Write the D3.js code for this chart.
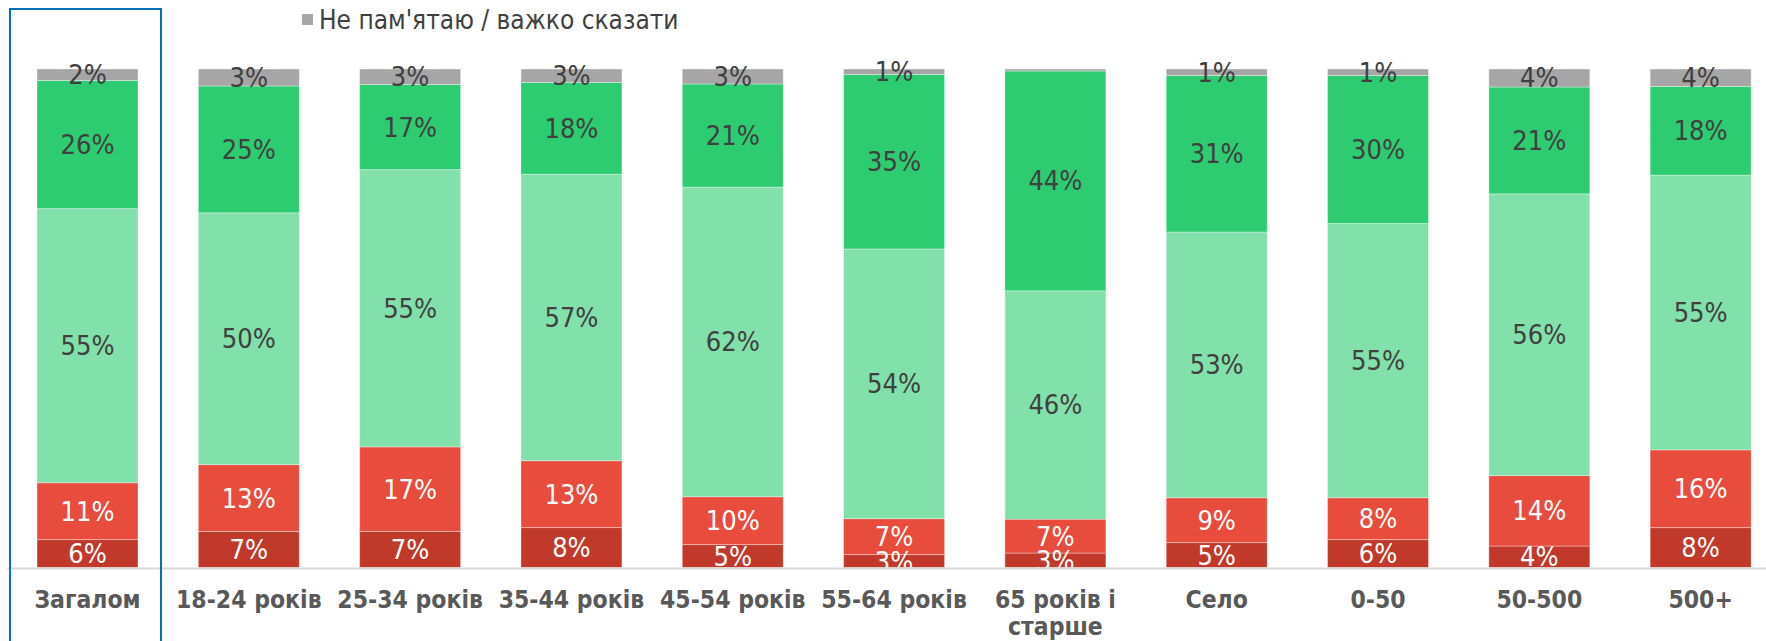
<!DOCTYPE html>
<html>
<head>
<meta charset="utf-8">
<script src="https://cdn.jsdelivr.net/npm/d3@7"></script>
<style>
  html, body { margin: 0; padding: 0; background: #fff; }
  svg { display: block; }
</style>
</head>
<body>
<div id="chart"></div>
<script>
// Categories along the x axis (label lines for the wrapped one).
const categories = [
  "Загалом", "18-24 років", "25-34 років", "35-44 років", "45-54 років",
  "55-64 років", "65 років і старше", "Село", "0-50", "50-500", "500+",
];
const categoryLines = [
  ["Загалом"], ["18-24 років"], ["25-34 років"], ["35-44 років"], ["45-54 років"],
  ["55-64 років"], ["65 років і", "старше"], ["Село"], ["0-50"], ["50-500"], ["500+"],
];

// Series, bottom to top of each stack (percent).
const darkRed   = [5.6, 7.2, 7.2, 8.0, 4.6, 2.6, 2.9, 5.0, 5.6, 4.3, 8.0];
const red       = [11.4, 13.4, 16.9, 13.4, 9.6, 7.2, 6.8, 9.0, 8.4, 14.1, 15.6];
const lightGreen = [55.0, 50.4, 55.4, 57.4, 62.1, 54.1, 45.8, 53.3, 55.0, 56.4, 55.1];
const green     = [25.7, 25.4, 17.0, 18.4, 20.7, 35.0, 44.1, 31.4, 29.7, 21.4, 17.8];
const dontKnow  = [2.3, 3.4, 3.1, 2.7, 3.0, 1.1, 0.4, 1.3, 1.3, 3.6, 3.5];

const legendLabel = "Не пам'ятаю / важко сказати";

const seriesKeys = ["darkRed", "red", "lightGreen", "green", "dontKnow"];
const seriesValues = { darkRed, red, lightGreen, green, dontKnow };
const COLORS = {
  darkRed: "#c0392b",
  red: "#e74c3c",
  lightGreen: "#82e0aa",
  green: "#2ecc71",
  dontKnow: "#a6a6a6",
};
const LABEL_COLORS = {
  darkRed: "#ffffff",
  red: "#ffffff",
  lightGreen: "#404040",
  green: "#404040",
  dontKnow: "#404040",
};

const width = 1766;
const height = 641;
const plotTop = 69;
const plotBottom = 567.5;

const rows = categories.map((cat, i) => {
  const row = { category: cat, lines: categoryLines[i] };
  seriesKeys.forEach((k) => (row[k] = seriesValues[k][i]));
  return row;
});

const stacked = d3.stack().keys(seriesKeys).offset(d3.stackOffsetExpand)(rows);

const x = d3
  .scaleBand()
  .domain(categories)
  .range([6.85, 1781.3])
  .paddingInner(0.374)
  .paddingOuter(0.187);

const y = d3.scaleLinear().domain([0, 1]).range([plotBottom, plotTop]);

const svg = d3
  .select("#chart")
  .append("svg")
  .attr("width", width)
  .attr("height", height);

svg
  .append("defs")
  .append("clipPath")
  .attr("id", "plot-clip")
  .append("rect")
  .attr("x", 0)
  .attr("y", 0)
  .attr("width", width)
  .attr("height", plotBottom);

// Stacked segments.
const layers = svg
  .selectAll("g.layer")
  .data(stacked)
  .enter()
  .append("g")
  .attr("class", "layer")
  .attr("fill", (d) => COLORS[d.key]);

layers
  .selectAll("rect")
  .data((d) => d)
  .enter()
  .append("rect")
  .attr("x", (d) => x(d.data.category))
  .attr("y", (d) => y(d[1]))
  .attr("width", x.bandwidth())
  .attr("height", (d) => y(d[0]) - y(d[1]))
  .attr("stroke", "#ffffff")
  .attr("stroke-opacity", 0.35)
  .attr("stroke-width", 1);

// Value labels in the middle of every segment (clipped at the axis line,
// like the original where the small bottom labels are cut off).
const labelGroup = svg.append("g").attr("clip-path", "url(#plot-clip)");

stacked.forEach((layer) => {
  labelGroup
    .selectAll(`text.lbl-${layer.key}`)
    .data(layer.filter((d) => Math.round(d.data[layer.key]) >= 1))
    .enter()
    .append("text")
    .attr("class", `lbl-${layer.key}`)
    .attr("x", (d) => x(d.data.category) + x.bandwidth() / 2)
    .attr("y", (d) => (y(d[0]) + y(d[1])) / 2)
    .attr("text-anchor", "middle")
    .attr("dominant-baseline", "central")
    .attr("font-family", "'DejaVu Sans Condensed', 'DejaVu Sans', sans-serif")
    .attr("font-size", "27px")
    .attr("fill", LABEL_COLORS[layer.key])
    .text((d) => `${Math.round(d.data[layer.key])}%`);
});

// Axis line.
svg
  .append("line")
  .attr("x1", 7)
  .attr("x2", width)
  .attr("y1", plotBottom + 1)
  .attr("y2", plotBottom + 1)
  .attr("stroke", "#d9d9d9")
  .attr("stroke-width", 2);

// Category labels.
const catLabels = svg
  .selectAll("text.cat")
  .data(rows)
  .enter()
  .append("text")
  .attr("class", "cat")
  .attr("text-anchor", "middle")
  .attr("font-family", "'DejaVu Sans Condensed', 'DejaVu Sans', sans-serif")
  .attr("font-weight", "bold")
  .attr("font-size", "24.5px")
  .attr("fill", "#595959");

catLabels
  .selectAll("tspan")
  .data((d) => d.lines.map((line) => ({ line, category: d.category })))
  .enter()
  .append("tspan")
  .attr("x", (d) => x(d.category) + x.bandwidth() / 2)
  .attr("y", (_, i) => 608 + i * 27)
  .text((d) => d.line);

// Highlight box around the total column.
svg
  .append("rect")
  .attr("x", 10)
  .attr("y", 9)
  .attr("width", 151)
  .attr("height", 660)
  .attr("fill", "none")
  .attr("stroke", "#0070c0")
  .attr("stroke-width", 2);

// Legend (only the visible item).
const legend = svg.append("g").attr("transform", "translate(302, 14)");
legend
  .append("rect")
  .attr("width", 11)
  .attr("height", 11)
  .attr("fill", COLORS.dontKnow);
legend
  .append("text")
  .attr("x", 17)
  .attr("y", 6)
  .attr("dominant-baseline", "central")
  .attr("font-family", "'DejaVu Sans Condensed', 'DejaVu Sans', sans-serif")
  .attr("font-size", "26px")
  .attr("fill", "#404040")
  .text(legendLabel);
</script>
</body>
</html>
